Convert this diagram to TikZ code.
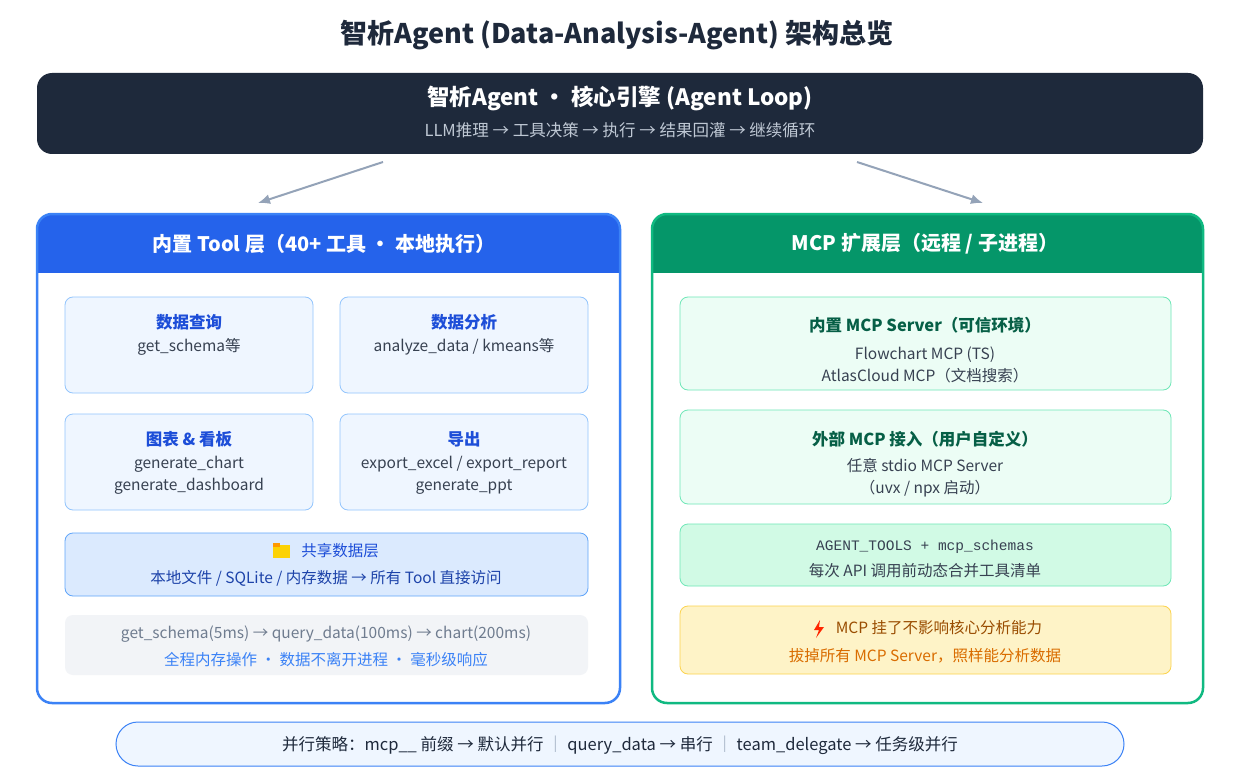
\documentclass[tikz,border=0pt]{standalone}
\usepackage{fontspec}
\setmainfont{Noto Sans CJK SC}
\newfontfamily\monofont{Liberation Mono}
\usetikzlibrary{arrows.meta}
\definecolor{navy}{HTML}{1E293B}
\definecolor{blueA}{HTML}{2563EB}
\definecolor{blueB}{HTML}{3B82F6}
\definecolor{blueC}{HTML}{93C5FD}
\definecolor{blueD}{HTML}{1D4ED8}
\definecolor{blueE}{HTML}{EFF6FF}
\definecolor{blueF}{HTML}{DBEAFE}
\definecolor{blueG}{HTML}{60A5FA}
\definecolor{greenA}{HTML}{059669}
\definecolor{greenB}{HTML}{10B981}
\definecolor{greenC}{HTML}{6EE7B7}
\definecolor{greenD}{HTML}{065F46}
\definecolor{greenE}{HTML}{ECFDF5}
\definecolor{greenF}{HTML}{D1FAE5}
\definecolor{amberA}{HTML}{FEF3C7}
\definecolor{amberB}{HTML}{FCD34D}
\definecolor{txt}{HTML}{374151}
\definecolor{slate}{HTML}{94A3B8}
\begin{document}
\begin{tikzpicture}[
  x = 1pt, y = -1pt,
  card/.style = {
    draw, rounded corners = 8pt, line width = 0.8pt,
  },
  bluecard/.style = {
    card, draw = blueC, fill = blueE,
  },
  greencard/.style = {
    card, draw = greenC, fill = greenE,
  },
  head/.style = {
    font = \fontsize{16.5}{19}\selectfont\bfseries,
  },
  body/.style = {
    font = \fontsize{15.5}{22}\selectfont, text = txt, align = center,
  }
]
  \useasboundingbox (0, 0) rectangle (1235, 773);
  \fill[white] (0, 0) rectangle (1235, 773);

  \node[font = \fontsize{27}{30}\selectfont\bfseries, text = navy] (title) at (617, 35)
    {智析Agent (Data-Analysis-Agent) 架构总览};

  % core engine
  \draw[fill = navy, draw = none, rounded corners = 15pt] (37, 73) rectangle (1203, 154);
  \node[font = \fontsize{22.5}{25}\selectfont\bfseries, text = white] (core) at (620, 98)
    {智析Agent · 核心引擎 (Agent Loop)};
  \node[font = \fontsize{16.5}{19}\selectfont, text = slate!60!white] (loop) at (620, 130)
    {LLM推理 → 工具决策 → 执行 → 结果回灌 → 继续循环};

  \coordinate (a1) at (383, 162);
  \coordinate (a2) at (258, 203);
  \coordinate (b1) at (857, 162);
  \coordinate (b2) at (983, 203);
  \draw[slate, line width = 2pt, -{Latex[length = 12pt, width = 10pt]}] (a1) -- (a2);
  \draw[slate, line width = 2pt, -{Latex[length = 12pt, width = 10pt]}] (b1) -- (b2);

  % left panel
  \begin{scope}
    \clip[rounded corners = 15pt] (37, 214) rectangle (620, 703);
    \fill[blueA] (37, 214) rectangle (620, 273);
  \end{scope}
  \draw[blueB, line width = 2.5pt, rounded corners = 15pt] (37, 214) rectangle (620, 703);
  \node[font = \fontsize{20}{23}\selectfont\bfseries, text = white] (tool) at (324, 244)
    {内置 Tool 层（40+ 工具 · 本地执行）};

  \draw[bluecard] (65, 297) rectangle (313, 393);
  \node[head, text = blueD] (q) at (189, 322) {数据查询};
  \node[body] (qt) at (189, 347) {get\_schema等};
  \draw[bluecard] (340, 297) rectangle (588, 393);
  \node[head, text = blueD] (an) at (464, 322) {数据分析};
  \node[body] (ant) at (464, 347) {analyze\_data / kmeans等};
  \draw[bluecard] (65, 414) rectangle (313, 510);
  \node[head, text = blueD] (ch) at (189, 439) {图表 \& 看板};
  \node[body] (cht) at (189, 475) {generate\_chart\\generate\_dashboard};
  \draw[bluecard] (340, 414) rectangle (588, 510);
  \node[head, text = blueD] (ex) at (464, 439) {导出};
  \node[body] (ext) at (464, 475) {export\_excel / export\_report\\generate\_ppt};

  \draw[card, draw = blueG, fill = blueF] (65, 533) rectangle (588, 596);
  \fill[yellow!70!orange] (273, 545) rectangle (290, 558);
  \fill[orange!80!yellow] (273, 543) rectangle (280, 547);
  \node[body, text = blueD] (sh) at (340, 551) {共享数据层};
  \node[body, text = blueD!70!navy] (sht) at (326, 578) {本地文件 / SQLite / 内存数据 → 所有 Tool 直接访问};

  \fill[slate!12!white, rounded corners = 8pt] (65, 615) rectangle (588, 675);
  \node[body, text = slate!60!txt] (pipe) at (326, 634)
    {get\_schema(5ms) → query\_data(100ms) → chart(200ms)};
  \node[body, text = blueB] (pipet) at (326, 660) {全程内存操作 · 数据不离开进程 · 毫秒级响应};

  % right panel
  \begin{scope}
    \clip[rounded corners = 15pt] (652, 214) rectangle (1203, 703);
    \fill[greenA] (652, 214) rectangle (1203, 273);
  \end{scope}
  \draw[greenB, line width = 2.5pt, rounded corners = 15pt] (652, 214) rectangle (1203, 703);
  \node[font = \fontsize{20}{23}\selectfont\bfseries, text = white] (mcp) at (925, 244)
    {MCP 扩展层（远程 / 子进程）};

  \draw[greencard] (680, 297) rectangle (1171, 390);
  \node[head, text = greenD] (in) at (925, 325) {内置 MCP Server（可信环境）};
  \node[body] (int) at (925, 365) {Flowchart MCP (TS)\\AtlasCloud MCP（文档搜索）};
  \draw[greencard] (680, 410) rectangle (1171, 504);
  \node[head, text = greenD] (out) at (925, 439) {外部 MCP 接入（用户自定义）};
  \node[body] (outt) at (925, 478) {任意 stdio MCP Server\\（uvx / npx 启动）};
  \draw[card, draw = greenC, fill = greenF] (680, 524) rectangle (1171, 586);
  \node[font = \fontsize{14.5}{17}\selectfont\monofont, text = txt] (at) at (925, 547)
    {AGENT\_TOOLS + mcp\_schemas};
  \node[body] (att) at (925, 571) {每次 API 调用前动态合并工具清单};
  \draw[card, draw = amberB, fill = amberA] (680, 606) rectangle (1171, 674);
  \fill[red!70!orange] (820, 620) -- (814, 630) -- (819, 630) -- (816, 638) -- (824, 627) -- (819, 627) -- cycle;
  \node[body, text = orange!60!black] (warn) at (939, 628) {MCP 挂了不影响核心分析能力};
  \node[body, text = orange!85!black] (warnt) at (925, 656) {拔掉所有 MCP Server，照样能分析数据};

  % bottom strategy
  \draw[blueB, fill = blueE, line width = 1pt, rounded corners = 22pt] (116, 722) rectangle (1124, 766);
  \node[body, font = \fontsize{16.5}{20}\selectfont, text = navy] (par) at (620, 745)
    {并行策略：mcp\_\_ 前缀 → 默认并行 \textcolor{slate}{｜} query\_data → 串行 \textcolor{slate}{｜} team\_delegate → 任务级并行};
\end{tikzpicture}
\end{document}
